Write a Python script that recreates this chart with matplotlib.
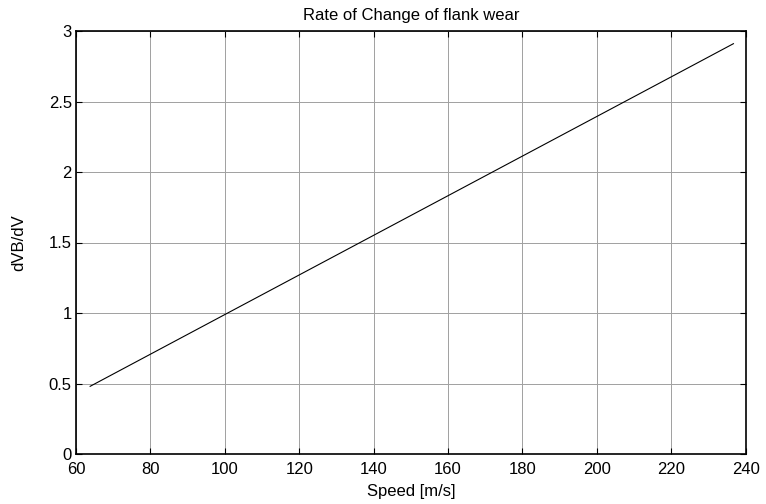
import matplotlib
matplotlib.use("Agg")
import matplotlib.pyplot as plt

plt.rcParams['font.family'] = ['Liberation Sans', 'DejaVu Sans']

speed = [63.8, 100, 140, 180, 220, 236.7]
rate = [0.48, 0.989, 1.551, 2.113, 2.675, 2.91]

xticks = [60, 80, 100, 120, 140, 160, 180, 200, 220, 240]
yticks = [0, 0.5, 1, 1.5, 2, 2.5, 3]
ytick_labels = ['0', '0.5', '1', '1.5', '2', '2.5', '3']

fs = 12

fig = plt.figure(figsize=(7.66, 5.04), dpi=100)
ax = fig.add_axes([76 / 766, 1 - 454 / 504, (745.7 - 76) / 766, (454 - 31) / 504])

ax.plot(speed, rate, color='black', linewidth=0.8)

ax.set_xlim(60, 240)
ax.set_ylim(0, 3)
ax.set_xticks(xticks)
ax.set_xticklabels([str(t) for t in xticks])
ax.set_yticks(yticks)
ax.set_yticklabels(ytick_labels)

ax.grid(True, color='#a0a0a0', linewidth=0.7, linestyle='-')
ax.set_axisbelow(True)

ax.tick_params(direction='in', length=4, width=0.8, labelsize=fs,
               top=True, right=True, colors='black')
ax.tick_params(axis='x', pad=6)
ax.tick_params(axis='y', pad=3)
for s in ax.spines.values():
    s.set_linewidth(1.2)
    s.set_color('black')

ax.set_xlabel('Speed [m/s]', fontsize=fs, labelpad=5)
ax.set_ylabel('dVB/dV', fontsize=fs, labelpad=16)
ax.set_title('Rate of Change of flank wear', fontsize=fs, pad=8)

fig.savefig('out.png', dpi=100)
